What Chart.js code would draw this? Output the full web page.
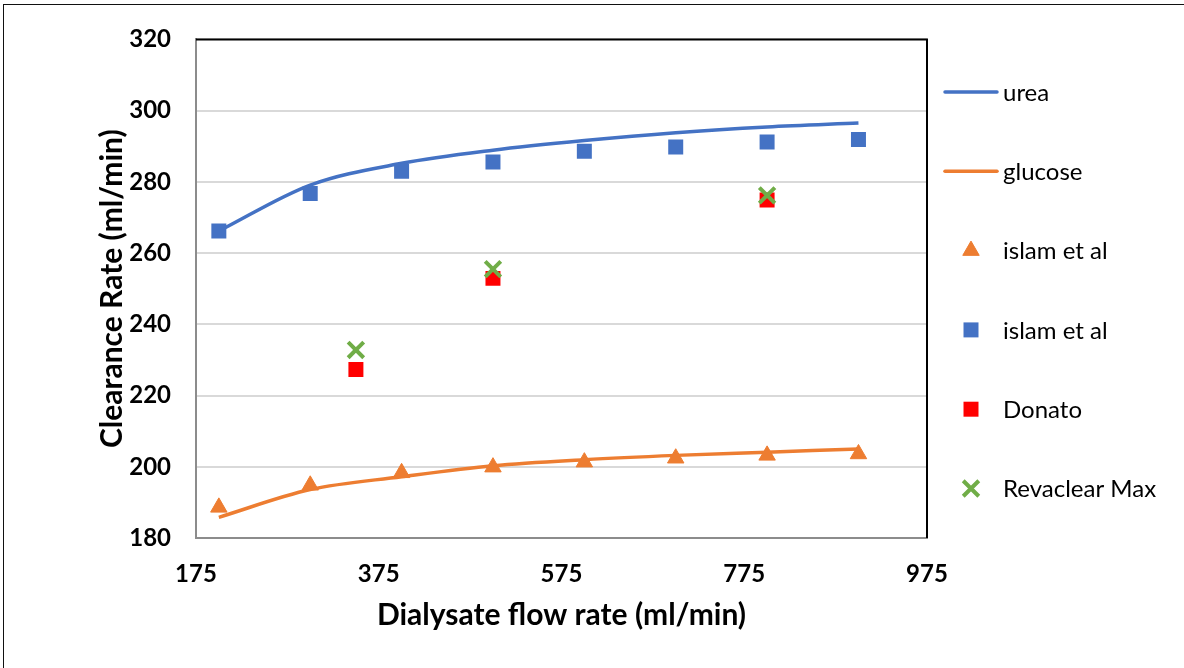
<!DOCTYPE html>
<html>
<head>
<meta charset="utf-8">
<script src="https://cdn.jsdelivr.net/npm/chart.js@4.4.1/dist/chart.umd.min.js"></script>
<style>
  html, body { margin: 0; padding: 0; background: #fff; }
  #wrap { position: relative; width: 1184px; height: 668px; overflow: hidden; }
  #frame { position: absolute; left: 3px; top: 4px; width: 1300px; height: 800px; border: 1.5px solid #111; box-sizing: border-box; }
  canvas { position: absolute; left: 0; top: 0; }
</style>
</head>
<body>
<div id="wrap">
  <div id="frame"></div>
  <canvas id="c" width="1184" height="668"></canvas>
</div>
<script>
// ---- data ----
const flowRates = [200, 300, 400, 500, 600, 700, 800, 900];
const ureaModel = [266.2, 279.1, 285.2, 288.9, 291.6, 293.8, 295.4, 296.5];
const glucoseModel = [185.8, 193.6, 197.2, 200.3, 202.0, 203.2, 204.1, 205.0];
const islamGlucose = [188.6, 194.8, 198.3, 199.9, 201.3, 202.4, 203.2, 203.6];
const islamUrea = [266.2, 276.7, 283.0, 285.6, 288.6, 289.8, 291.2, 291.9];
const donatoFlow = [350, 500, 800];
const donatoValues = [227.3, 252.9, 274.9];
const revaclearFlow = [350, 500, 800];
const revaclearValues = [232.8, 255.5, 276.2];
const xTickValues = [175, 375, 575, 775, 975];
const yTickValues = [180, 200, 220, 240, 260, 280, 300, 320];
const seriesLabels = ['urea', 'glucose', 'islam et al', 'islam et al', 'Donato', 'Revaclear Max'];

const pts = (xs, ys) => xs.map((x, i) => ({ x: x, y: ys[i] }));

const BLUE = '#4472C4', ORANGE = '#ED7D31', RED = '#FF0000', GREEN = '#70AD47';
const FONT = 'Lato, "Open Sans", sans-serif';

const legendPlugin = {
  id: 'sideLegend',
  afterDraw(chart, args, opts) {
    const ctx = chart.ctx;
    chart.data.datasets.forEach((ds, i) => {
      const y = opts.top + i * opts.spacing;
      ctx.save();
      if (ds.showLine) {
        ctx.strokeStyle = ds.borderColor;
        ctx.lineWidth = ds.borderWidth;
        ctx.lineCap = 'round';
        ctx.beginPath();
        ctx.moveTo(opts.lineX0, y);
        ctx.lineTo(opts.lineX1, y);
        ctx.stroke();
      } else {
        ctx.fillStyle = ds.pointBackgroundColor;
        ctx.strokeStyle = ds.pointBorderColor;
        ctx.lineWidth = ds.pointBorderWidth;
        Chart.helpers.drawPoint(ctx, {
          pointStyle: ds.pointStyle,
          radius: ds.pointRadius,
          borderWidth: ds.pointBorderWidth,
          rotation: 0
        }, opts.markerX, y);
      }
      ctx.restore();
      ctx.save();
      ctx.fillStyle = '#000';
      ctx.font = opts.font;
      ctx.textAlign = 'left';
      ctx.textBaseline = 'middle';
      ctx.fillText(ds.label, opts.textX, y + 1);
      ctx.restore();
    });
  }
};

const frameLines = {
  id: 'frameLines',
  afterDatasetsDraw(chart) {
    const {ctx, chartArea: a} = chart;
    ctx.save();
    ctx.strokeStyle = '#000';
    ctx.lineWidth = 2;
    ctx.beginPath();
    ctx.moveTo(a.left, a.top);
    ctx.lineTo(a.right, a.top);
    ctx.lineTo(a.right, a.bottom);
    ctx.stroke();
    ctx.restore();
  }
};

const lineDs = (label, data, color) => ({
  label, data, type: 'line', showLine: true,
  borderColor: color, backgroundColor: color, borderWidth: 3.5,
  pointRadius: 0, cubicInterpolationMode: 'monotone', fill: false, order: 10
});
const markDs = (label, data, color, style, r, bw, order) => ({
  label, data, type: 'scatter', showLine: false,
  pointStyle: style, pointRadius: r, pointHoverRadius: r,
  pointBackgroundColor: color, pointBorderColor: color, pointBorderWidth: bw,
  backgroundColor: color, borderColor: color, order
});

new Chart(document.getElementById('c'), {
  type: 'scatter',
  data: {
    datasets: [
      lineDs(seriesLabels[0], pts(flowRates, ureaModel), BLUE),
      lineDs(seriesLabels[1], pts(flowRates, glucoseModel), ORANGE),
      markDs(seriesLabels[2], pts(flowRates, islamGlucose), ORANGE, 'triangle', 9.5, 1, 4),
      markDs(seriesLabels[3], pts(flowRates, islamUrea), BLUE, 'rect', 10.6, 0, 3),
      markDs(seriesLabels[4], pts(donatoFlow, donatoValues), RED, 'rect', 10.6, 0, 2),
      markDs(seriesLabels[5], pts(revaclearFlow, revaclearValues), GREEN, 'crossRot', 11, 4, 1)
    ]
  },
  options: {
    responsive: false,
    animation: false,
    events: [],
    layout: { padding: { left: 0, top: 38, right: 257, bottom: 0 } },
    plugins: {
      legend: { display: false },
      tooltip: { enabled: false },
      sideLegend: {
        top: 92, spacing: 79.3, lineX0: 945, lineX1: 997, markerX: 971, textX: 1003,
        font: '24px ' + FONT
      }
    },
    scales: {
      x: {
        type: 'linear', min: 175, max: 975,
        afterFit: s => { s.height = 130; },
        afterBuildTicks: s => { s.ticks = xTickValues.map(v => ({ value: v })); },
        grid: { display: false, drawTicks: false },
        border: { display: true, color: '#8c8c8c', width: 2 },
        ticks: { padding: 22, color: '#000', font: { family: FONT, size: 24, weight: 'bold' } },
        title: { display: true, text: 'Dialysate flow rate (ml/min)', color: '#000',
                 font: { family: FONT, size: 30, weight: 'bold', lineHeight: 1.2 }, padding: { top: 0, bottom: 35 } }
      },
      y: {
        type: 'linear', min: 180, max: 320,
        afterFit: s => { s.width = 196; },
        afterBuildTicks: s => { s.ticks = yTickValues.map(v => ({ value: v })); },
        grid: { color: '#d9d9d9', lineWidth: 2, drawTicks: false },
        border: { display: true, color: '#8c8c8c', width: 2 },
        ticks: { padding: 25, color: '#000', font: { family: FONT, size: 24, weight: 'bold' } },
        title: { display: true, text: 'Clearance Rate (ml/min)', color: '#000',
                 font: { family: FONT, size: 30, weight: 'bold', lineHeight: 1.2 }, padding: { top: 94, bottom: 0 } }
      }
    }
  },
  plugins: [legendPlugin, frameLines]
});
</script>
</body>
</html>
